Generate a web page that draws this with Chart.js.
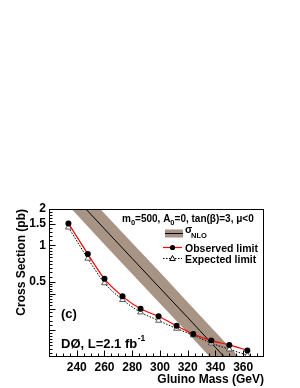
<!DOCTYPE html>
<html><head><meta charset="utf-8">
<script src="https://cdn.jsdelivr.net/npm/chart.js@4/dist/chart.umd.min.js"></script>
<style>html,body{margin:0;padding:0;background:#fff;}canvas{display:block}</style>
</head><body>
<canvas id="c" width="300" height="388"></canvas>
<script>
// ---- data ----
const gluinoMass    = [234, 248, 260, 273, 286, 299, 312, 324, 337, 350, 363];
const observedLimit = [1.52, 0.85, 0.53, 0.38, 0.30, 0.26, 0.217, 0.186, 0.164, 0.151, 0.136];
const expectedLimit = [1.41, 0.78, 0.49, 0.356, 0.281, 0.24, 0.206, 0.182, 0.156, 0.139, 0.124];
const nloMass    = [220, 240, 260, 280, 300, 320, 340, 360, 380];
const nloCentral = [4.23, 2.41, 1.37, 0.78, 0.445, 0.254, 0.144, 0.082, 0.047];
const nloUpper   = [5.67, 3.23, 1.84, 1.05, 0.60, 0.34, 0.193, 0.110, 0.063];
const nloLower   = [3.16, 1.80, 1.02, 0.58, 0.332, 0.190, 0.107, 0.061, 0.035];
const xTickLabels = [240, 260, 280, 300, 320, 340, 360];
const yTickLabels = [0.5, 1, 1.5, 2];
const xMinorTicks = [225,230,235,245,250,255,265,270,275,285,290,295,305,310,315,325,330,335,345,350,355,365,370];
const yMinorTicks = [0.13,0.14,0.15,0.16,0.17,0.18,0.19,0.22,0.24,0.26,0.28,0.32,0.34,0.36,0.38,0.42,0.44,0.46,0.48,
                     0.55,0.6,0.65,0.7,0.75,0.8,0.85,0.9,0.95,1.1,1.2,1.3,1.4,1.6,1.7,1.8,1.9];
const yMajorTicks = [0.2,0.3,0.4,0.5,1,1.5,2];

const FONT = '"Liberation Sans", Arial, Helvetica, sans-serif';
const BAND = 'rgb(168,148,132)';

const pts = (xs, ys) => xs.map((x, i) => ({x, y: ys[i]}));

const axesPlugin = {
  id: 'rootAxes',
  afterDatasetsDraw(chart) {
    const {ctx, chartArea: a, scales: {x, y}} = chart;
    ctx.save();
    ctx.strokeStyle = '#000';
    ctx.lineWidth = 1;
    const L = Math.round(a.left) + 0.5, R = Math.round(a.right) - 0.5;
    const T = Math.round(a.top) + 0.5, B = Math.round(a.bottom) - 0.5;
    ctx.strokeRect(L, T, R - L, B - T);
    ctx.beginPath();
    xTickLabels.forEach(v => { const p = Math.round(x.getPixelForValue(v)) + 0.5; ctx.moveTo(p, B); ctx.lineTo(p, B - 6); });
    xMinorTicks.forEach(v => { const p = Math.round(x.getPixelForValue(v)) + 0.5; ctx.moveTo(p, B); ctx.lineTo(p, B - 3); });
    yMajorTicks.forEach(v => { const p = Math.round(y.getPixelForValue(v)) + 0.5; ctx.moveTo(L, p); ctx.lineTo(L + 6, p); });
    yMinorTicks.forEach(v => { const p = Math.round(y.getPixelForValue(v)) + 0.5; ctx.moveTo(L, p); ctx.lineTo(L + 3, p); });
    ctx.stroke();
    ctx.restore();
  },
  afterDraw(chart) {
    const ctx = chart.ctx;
    ctx.save();
    ctx.fillStyle = '#000';
    ctx.textBaseline = 'alphabetic';
    // header
    let cx = 122; const hy = 222;
    const seg = (t, size, dy) => { ctx.font = `bold ${size}px ${FONT}`; ctx.fillText(t, cx, hy + dy); cx += ctx.measureText(t).width; };
    seg('m', 10, 0); seg('0', 7.5, 2.5); seg('=500, A', 10, 0); seg('0', 7.5, 2.5); seg('=0, tan(', 10, 0);
    seg('β', 10, 0); seg(')=3, ', 10, 0); seg('μ', 10, 0); seg('<0', 10, 0);
    // entry 1: band
    ctx.fillStyle = BAND; ctx.fillRect(165, 229.5, 18, 8);
    ctx.strokeStyle = '#000'; ctx.lineWidth = 1;
    ctx.beginPath(); ctx.moveTo(165, 233.5); ctx.lineTo(183, 233.5); ctx.stroke();
    ctx.fillStyle = '#000';
    ctx.font = `bold 10.5px ${FONT}`; ctx.fillText('σ', 185, 233);
    ctx.font = `bold 7.5px ${FONT}`; ctx.fillText('NLO', 191, 237.5);
    // entry 2: observed
    ctx.strokeStyle = '#ff0000'; ctx.lineWidth = 1.2;
    ctx.beginPath(); ctx.moveTo(163, 247.5); ctx.lineTo(182, 247.5); ctx.stroke();
    ctx.beginPath(); ctx.arc(172.5, 247.5, 2.6, 0, Math.PI * 2); ctx.fill();
    ctx.font = `bold 10.5px ${FONT}`; ctx.fillText('Observed limit', 185, 251.5);
    // entry 3: expected
    ctx.strokeStyle = '#000'; ctx.lineWidth = 1; ctx.setLineDash([1.5, 1.5]);
    ctx.beginPath(); ctx.moveTo(163, 258.5); ctx.lineTo(182, 258.5); ctx.stroke();
    ctx.setLineDash([]);
    ctx.fillStyle = '#fff';
    ctx.beginPath(); ctx.moveTo(172.5, 255.5); ctx.lineTo(175.3, 260.5); ctx.lineTo(169.7, 260.5); ctx.closePath(); ctx.fill(); ctx.stroke();
    ctx.fillStyle = '#000';
    ctx.fillText('Expected limit', 185, 262.5);
    // labels
    ctx.font = `bold 13px ${FONT}`;
    ctx.fillText('(c)', 61, 318);
    ctx.fillText('DØ, L=2.1 fb', 61, 347.5);
    const w = ctx.measureText('DØ, L=2.1 fb').width;
    ctx.font = `bold 8.5px ${FONT}`;
    ctx.fillText('-1', 61 + w + 0.5, 341);
    ctx.restore();
  }
};

new Chart(document.getElementById('c'), {
  type: 'line',
  data: {
    datasets: [
      { label: 'Observed limit', data: pts(gluinoMass, observedLimit), order: 0,
        borderColor: '#ff0000', borderWidth: 1.2, cubicInterpolationMode: 'monotone',
        pointRadius: 3, pointBackgroundColor: '#000', pointBorderColor: '#000', pointBorderWidth: 0, fill: false },
      { label: 'Expected limit', data: pts(gluinoMass, expectedLimit), order: 1,
        borderColor: '#000', borderWidth: 1, borderDash: [1.5, 1.5], cubicInterpolationMode: 'monotone',
        pointStyle: 'triangle', pointRadius: 3.4, pointBackgroundColor: '#fff', pointBorderColor: '#333', pointBorderWidth: 0.8, fill: false },
      { label: 'sigma NLO', data: pts(nloMass, nloCentral), order: 2,
        borderColor: '#000', borderWidth: 1, pointRadius: 0, fill: false, tension: 0 },
      { label: 'NLO low', data: pts(nloMass, nloLower), order: 3,
        borderWidth: 0, borderColor: 'rgba(0,0,0,0)', pointRadius: 0, fill: false, tension: 0 },
      { label: 'NLO high', data: pts(nloMass, nloUpper), order: 4,
        borderWidth: 0, borderColor: 'rgba(0,0,0,0)', pointRadius: 0, fill: '-1', backgroundColor: BAND, tension: 0 }
    ]
  },
  options: {
    responsive: false, animation: false, devicePixelRatio: 1,
    layout: { padding: { left: 0, top: 209, right: 36, bottom: 0 } },
    plugins: { legend: { display: false }, tooltip: { enabled: false } },
    scales: {
      x: {
        type: 'linear', min: 220, max: 375,
        afterBuildTicks: s => { s.ticks = xTickLabels.map(v => ({value: v})); },
        afterFit: s => { s.height = 31; },
        grid: { display: false, drawTicks: false }, border: { display: false },
        ticks: { color: '#000', font: { family: FONT, size: 12, weight: 'bold' }, padding: 3, maxRotation: 0, autoSkip: false },
        title: { display: true, text: 'Gluino Mass (GeV)', align: 'end', color: '#000',
                 font: { family: FONT, size: 12, weight: 'bold' }, padding: { top: 0, bottom: 1 } }
      },
      y: {
        type: 'logarithmic', min: 0.12, max: 2,
        afterBuildTicks: s => { s.ticks = yTickLabels.map(v => ({value: v})); },
        afterFit: s => { s.width = 49; },
        grid: { display: false, drawTicks: false }, border: { display: false },
        ticks: { color: '#000', font: { family: FONT, size: 12, weight: 'bold' }, padding: 3, autoSkip: false,
                 callback: v => String(v) },
        title: { display: true, text: 'Cross Section (pb)', align: 'end', color: '#000',
                 font: { family: FONT, size: 12, weight: 'bold' }, padding: { top: 14, bottom: 0 } }
      }
    }
  },
  plugins: [axesPlugin]
});
</script>
</body></html>
